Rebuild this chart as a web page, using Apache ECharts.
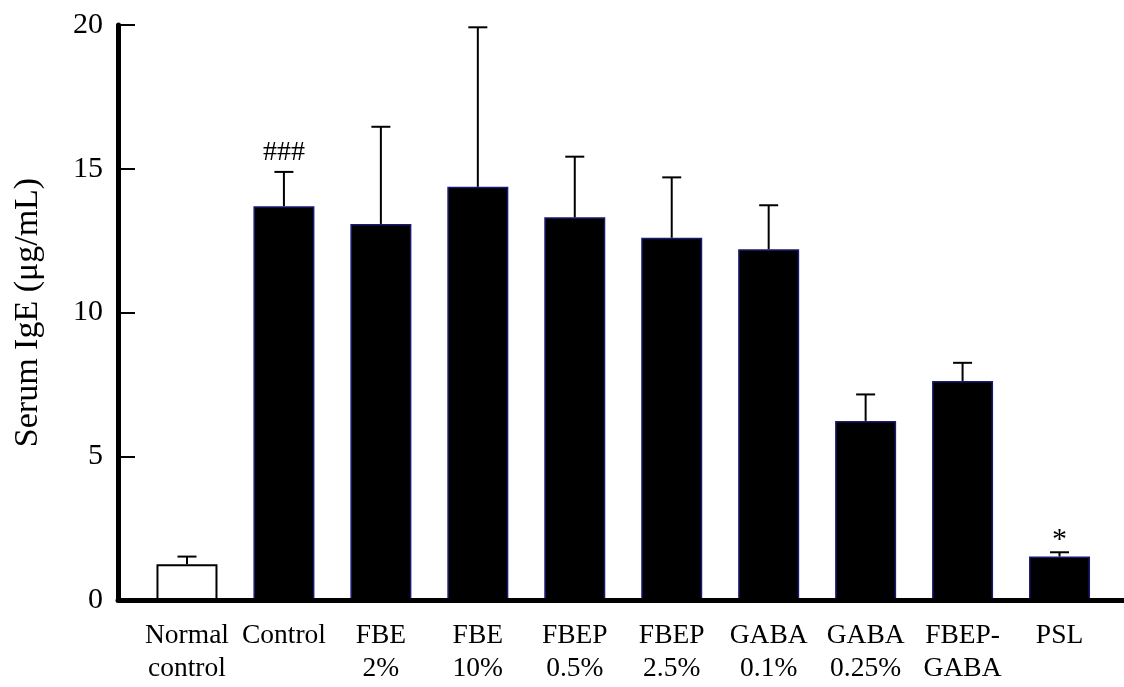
<!DOCTYPE html>
<html>
<head>
<meta charset="utf-8">
<script src="https://cdn.jsdelivr.net/npm/echarts@6/dist/echarts.min.js"></script>
<style>
html,body{margin:0;padding:0;background:#fff;}
#chart{width:1124px;height:687px;}
</style>
</head>
<body>
<div id="chart"></div>
<script>
const categories = ['Normal\ncontrol', 'Control', 'FBE\n2%', 'FBE\n10%', 'FBEP\n0.5%', 'FBEP\n2.5%', 'GABA\n0.1%', 'GABA\n0.25%', 'FBEP-\nGABA', 'PSL'];
const means = [1.24, 13.70, 13.08, 14.37, 13.31, 12.60, 12.20, 6.23, 7.62, 1.51];
const errors = [0.27, 1.19, 3.38, 5.55, 2.11, 2.10, 1.53, 0.92, 0.63, 0.15];
const marks = ['', '###', '', '', '', '', '', '', '', '*'];
const yTicks = [0, 5, 10, 15, 20];

const FONT = '"Liberation Serif", "Times New Roman", serif';
const chart = echarts.init(document.getElementById('chart'), null, {renderer: 'canvas'});

const barData = means.map((v, i) => ({
  value: v,
  itemStyle: i === 0
    ? {color: '#ffffff', borderColor: '#000000', borderWidth: 2}
    : {color: '#000000', borderColor: '#1a1a70', borderWidth: 1.5}
}));

const errData = means.map((v, i) => [i, v, v + errors[i], marks[i]]);

chart.setOption({
  animation: false,
  backgroundColor: '#ffffff',
  grid: [
    {left: 138.5, right: 16, top: 25, bottom: 87},
    {left: 118, right: 0, top: 25, bottom: 87}
  ],
  xAxis: [
    {
      type: 'category', gridIndex: 0, data: categories,
      axisLine: {show: false}, axisTick: {show: false},
      axisLabel: {
        color: '#000', fontFamily: FONT, fontSize: 27.5, lineHeight: 33,
        margin: 19, interval: 0
      }
    },
    {
      type: 'value', gridIndex: 1, min: 0, max: 1, z: 5,
      axisLine: {show: true, lineStyle: {color: '#000', width: 5}},
      axisTick: {show: false}, axisLabel: {show: false}, splitLine: {show: false}
    }
  ],
  yAxis: [
    {
      type: 'value', gridIndex: 0, min: 0, max: 20, interval: 5,
      axisLine: {show: false}, axisTick: {show: false}, axisLabel: {show: false},
      splitLine: {show: false}
    },
    {
      type: 'value', gridIndex: 1, min: 0, max: 20, interval: 5, z: 5,
      data: yTicks,
      name: 'Serum IgE (μg/mL)', nameLocation: 'middle', nameGap: 73,
      nameTextStyle: {color: '#000', fontFamily: FONT, fontSize: 34},
      axisLine: {show: true, lineStyle: {color: '#000', width: 5}},
      axisTick: {show: true, inside: true, length: 17, lineStyle: {color: '#000', width: 2}},
      axisLabel: {color: '#000', fontFamily: FONT, fontSize: 30, margin: 15},
      splitLine: {show: false}
    }
  ],
  series: [
    {
      type: 'bar', xAxisIndex: 0, yAxisIndex: 0,
      data: barData, barWidth: 61, z: 2
    },
    {
      type: 'custom', xAxisIndex: 0, yAxisIndex: 0, z: 3,
      data: errData,
      renderItem: function (params, api) {
        const x = api.value(0);
        const lo = api.coord([x, api.value(1)]);
        const hi = api.coord([x, api.value(2)]);
        const half = 9.5;
        const children = [
          {type: 'line', shape: {x1: lo[0], y1: lo[1], x2: hi[0], y2: hi[1]},
           style: {stroke: '#000', lineWidth: 2}},
          {type: 'line', shape: {x1: hi[0] - half, y1: hi[1], x2: hi[0] + half, y2: hi[1]},
           style: {stroke: '#000', lineWidth: 2}}
        ];
        const m = marks[params.dataIndex];
        if (m) {
          children.push({
            type: 'text',
            style: {
              text: m, x: hi[0], y: hi[1] - (m === '*' ? -3 : 5),
              textAlign: 'center', textVerticalAlign: 'bottom',
              fill: '#000', font: (m === '*' ? '30px ' : '28px ') + FONT
            }
          });
        }
        return {type: 'group', children: children};
      }
    }
  ]
});
</script>
</body>
</html>
